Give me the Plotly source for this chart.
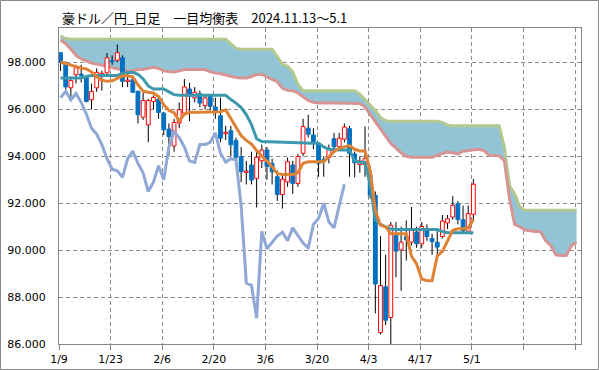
import plotly.graph_objects as go

# ---------------- data ----------------
tick_labels = ["1/9", "1/23", "2/6", "2/20", "3/6", "3/20", "4/3", "4/17", "5/1", "", ""]

opens = [98.42, 98.0, 96.92, 97.48, 97.5, 97.36, 96.41, 96.92, 97.5, 97.56,
         98.08, 98.09, 98.2, 97.2, 97.27, 96.77, 95.67, 95.34, 96.34, 96.44,
         95.84, 95.16, 94.44, 95.42, 95.84, 96.87, 96.49, 96.67, 96.16, 96.56,
         96.1, 95.73, 94.96, 95.09, 94.67, 93.99, 93.33, 93.63, 93.06, 93.81,
         94.27, 93.7, 93.13, 92.37, 92.91, 93.63, 92.84, 94.13, 95.2, 94.91,
         94.5, 93.85, 93.95, 94.75, 94.41, 94.73, 95.18, 94.1, 93.65, 93.65,
         93.2, 92.34, 86.49, 88.44, 87.13, 90.63, 90.01, 90.58, 90.34, 90.77,
         90.27, 90.84, 90.5, 90.34, 90.58, 91.16, 91.41, 91.98, 91.3, 90.81,
         91.53]
highs = [98.45, 98.05, 97.4, 97.9, 97.9, 97.45, 97.1, 97.75, 97.65, 98.4,
         98.3, 98.77, 98.3, 97.6, 97.45, 96.8, 96.7, 96.45, 96.6, 96.6,
         95.9, 95.4, 95.6, 96.3, 97.3, 97.13, 96.95, 96.8, 96.6, 96.6,
         96.5, 96.5, 95.3, 95.3, 94.8, 94.4, 93.8, 94.2, 94.2, 94.5,
         94.4, 93.9, 93.4, 93.2, 93.95, 93.8, 94.1, 95.6, 95.77, 95.2,
         94.6, 94.0, 94.5, 95.0, 95.0, 95.4, 95.3, 94.2, 94.0, 95.27,
         93.6, 92.5, 90.6, 89.8, 91.2, 91.2, 91.0, 91.27, 91.84, 91.0,
         91.2, 91.1, 90.7, 90.9, 91.5, 91.5, 92.3, 92.1, 91.9, 91.9,
         93.03]
lows = [97.63, 96.85, 96.5, 97.1, 97.15, 96.3, 96.0, 96.75, 96.8, 97.4,
        97.9, 98.0, 96.95, 96.95, 96.7, 95.4, 95.55, 94.6, 96.0, 95.6,
        94.9, 94.0, 94.2, 95.2, 95.75, 95.5, 96.3, 96.1, 96.0, 95.95,
        95.6, 94.6, 94.7, 94.0, 93.6, 92.9, 92.8, 92.8, 91.82, 93.5,
        93.0, 92.8, 92.1, 91.77, 92.7, 92.4, 92.7, 94.0, 94.8, 94.3,
        93.13, 93.13, 93.7, 94.2, 94.3, 94.6, 93.13, 93.1, 93.3, 93.13,
        92.2, 87.3, 86.41, 86.8, 85.99, 88.84, 88.27, 89.56, 90.2, 90.1,
        90.1, 90.4, 89.8, 89.8, 90.5, 90.9, 91.3, 91.1, 90.7, 90.7,
        91.3]
closes = [98.0, 96.96, 97.23, 97.77, 97.45, 96.34, 96.77, 97.58, 97.52, 98.2,
          98.03, 98.42, 97.2, 97.24, 96.73, 95.77, 96.38, 96.38, 96.51, 95.87,
          95.13, 94.84, 95.44, 95.99, 96.96, 96.56, 96.73, 96.27, 96.49, 96.13,
          95.91, 94.77, 95.02, 94.49, 93.96, 93.34, 93.36, 92.99, 93.96, 94.27,
          93.56, 93.34, 92.37, 93.03, 93.77, 92.84, 93.99, 95.27, 94.94, 94.63,
          93.7, 93.8, 94.3, 94.41, 94.77, 95.25, 94.13, 93.72, 93.8, 93.9,
          92.34, 88.56, 88.49, 87.01, 91.06, 89.96, 90.34, 90.44, 90.84, 90.27,
          91.01, 90.58, 90.37, 90.13, 91.24, 91.34, 91.91, 91.3, 90.84, 91.56,
          92.81]

tenkan = [98.02, 97.95, 97.88, 97.8, 97.76, 97.72, 97.6, 97.4, 97.24, 97.2,
          97.22, 97.32, 97.42, 97.43, 97.38, 97.05, 96.77, 96.73, 96.7, 96.55,
          96.2, 95.95, 95.86, 95.5, 95.8, 95.87, 95.87, 95.87, 95.87, 95.87,
          95.87, 95.9, 95.98, 95.6, 95.25, 94.88, 94.68, 94.52, 94.25, 94.0,
          93.8, 93.56, 93.27, 93.23, 93.23, 93.23, 93.3, 93.7, 93.77, 93.77,
          93.77, 93.77, 93.98, 94.2, 94.35, 94.42, 94.46, 94.3, 94.23, 94.23,
          93.4, 91.7, 91.06, 90.99, 90.7, 90.7, 90.7, 90.7, 89.75, 89.41,
          88.77, 88.7, 88.7, 89.75, 89.95, 90.4, 90.85, 90.91, 90.91, 90.95,
          91.3]

kijun = [97.34, 97.34, 97.34, 97.34, 97.34, 97.4, 97.44, 97.44, 97.44, 97.44,
         97.44, 97.44, 97.55, 97.58, 97.58, 97.5, 97.3, 97.0, 96.87, 96.87,
         96.87, 96.75, 96.63, 96.6, 96.6, 96.6, 96.6, 96.6, 96.6, 96.6,
         96.6, 96.6, 96.6, 96.42, 96.27, 96.08, 95.78, 95.35, 94.75, 94.63,
         94.62, 94.62, 94.61, 94.6, 94.59, 94.58, 94.57, 94.56, 94.56, 94.56,
         94.56, 94.4, 94.3, 94.27, 94.27, 94.27, 94.27, 93.8, 93.75, 93.75,
         92.8, 91.3, 91.1, 90.99, 90.9, 90.88, 90.88, 90.88, 90.88, 90.88,
         90.88, 90.88, 90.88, 90.88, 90.8, 90.74, 90.74, 90.74, 90.74, 90.74,
         90.74]

chikou = [96.5, 96.77, 96.41, 96.68, 96.3, 95.8, 95.2, 94.95, 94.5, 93.9,
          93.45, 93.38, 93.1, 93.9, 94.22, 93.7, 93.3, 92.5, 92.9, 93.6,
          93.0, 94.4, 95.05, 94.8, 94.4, 93.8, 93.74, 94.5, 94.5, 94.6,
          95.0, 94.13, 93.75, 93.9, 93.85, 91.9, 88.6, 88.5, 87.1, 90.8,
          90.06, 90.35, 90.6, 90.77, 90.4, 90.95, 90.6, 90.3, 90.1, 91.1,
          91.35, 92.0, 91.2, 90.95, 91.9, 92.8]

senkou_a = [99.13, 99.02, 98.99, 98.99, 98.99, 98.99, 98.99, 98.99, 98.99, 98.99,
            98.99, 98.99, 98.99, 98.99, 98.99, 98.99, 98.99, 98.99, 98.99, 98.99,
            98.99, 98.99, 98.99, 98.99, 98.99, 98.99, 98.99, 98.99, 98.99, 98.99,
            98.99, 98.99, 98.99, 98.8, 98.6, 98.56, 98.56, 98.56, 98.56, 98.56,
            98.56, 98.56, 98.25, 97.92, 97.84, 97.6, 97.06, 96.8, 96.8, 96.8,
            96.8, 96.8, 96.8, 96.8, 96.8, 96.8, 96.8, 96.8, 96.65, 96.42,
            96.2, 95.95, 95.65, 95.52, 95.49, 95.49, 95.49, 95.49, 95.49, 95.49,
            95.49, 95.49, 95.49, 95.49, 95.45, 95.33, 95.3, 95.3, 95.3, 95.3,
            95.3, 95.3, 95.3, 95.3, 95.3, 95.3, 94.4, 92.75, 92.4, 91.85,
            91.7, 91.7, 91.7, 91.7, 91.7, 91.7, 91.7, 91.7, 91.7, 91.7,
            91.7]

senkou_b = [98.96, 98.8, 98.57, 98.3, 98.15, 98.05, 97.98, 97.93, 97.9, 97.84,
            97.78, 97.72, 97.68, 97.64, 97.65, 97.7, 97.7, 97.75, 97.8, 97.75,
            97.65, 97.62, 97.6, 97.65, 97.7, 97.7, 97.7, 97.7, 97.7, 97.6,
            97.57, 97.52, 97.47, 97.4, 97.36, 97.34, 97.34, 97.4, 97.49, 97.49,
            97.4, 97.28, 97.18, 96.9, 96.82, 96.8, 96.7, 96.52, 96.38, 96.3,
            96.27, 96.28, 96.28, 96.28, 96.28, 96.28, 96.28, 96.25, 96.25, 96.1,
            95.8, 95.45, 95.15, 94.85, 94.55, 94.35, 94.15, 94.0, 93.96, 93.96,
            93.96, 93.96, 93.96, 94.05, 94.12, 94.18, 94.15, 94.1, 94.22, 94.25,
            94.25, 94.3, 94.25, 94.05, 94.03, 94.02, 93.82, 92.2, 91.1, 91.0,
            90.86, 90.82, 90.8, 90.8, 90.41, 90.2, 89.8, 89.77, 89.77, 90.2,
            90.34]

# ---------------- styling ----------------
UP_LINE = "#FF0000"
DOWN_COL = "#0070C0"
TENKAN_COL = "#DF8236"
KIJUN_COL = "#3D98AE"
CHIKOU_COL = "#8FA8D6"
SPAN_A_COL = "#B3C98F"
SPAN_B_COL = "#D69494"
CLOUD_FILL = "#92C4D5"
GRID_COL = "#8C8C8C"
AXIS_COL = "#868686"
HALF_W = 0.37

idx = list(range(len(closes)))
cloud_idx = list(range(len(senkou_a)))
chikou_idx = list(range(len(chikou)))

# wicks (split above / below the body so they do not cross the hollow bodies)
wx, wy = [], []
for i, o, h, l, c in zip(idx, opens, highs, lows, closes):
    top, bot = max(o, c), min(o, c)
    wx += [i, i, None, i, i, None]
    wy += [h, top, None, bot, l, None]

# bodies as rectangles built from the data
def bodies(up):
    bx, by = [], []
    for i, o, c in zip(idx, opens, closes):
        if (c >= o) != up:
            continue
        lo, hi = min(o, c), max(o, c)
        if hi - lo < 0.05:
            mid = (hi + lo) / 2
            lo, hi = mid - 0.03, mid + 0.03
        bx += [i - HALF_W, i + HALF_W, i + HALF_W, i - HALF_W, i - HALF_W, None]
        by += [lo, lo, hi, hi, lo, None]
    return bx, by

ux, uy = bodies(True)
dx, dy = bodies(False)

fig = go.Figure()
fig.add_trace(go.Scatter(x=cloud_idx, y=senkou_a, mode="lines",
                         line=dict(color=SPAN_A_COL, width=3), hoverinfo="skip"))
fig.add_trace(go.Scatter(x=cloud_idx, y=senkou_b, mode="lines", fill="tonexty",
                         fillcolor=CLOUD_FILL,
                         line=dict(color=SPAN_B_COL, width=3), hoverinfo="skip"))
fig.add_trace(go.Scatter(x=wx, y=wy, mode="lines", line=dict(color="#000000", width=1),
                         hoverinfo="skip"))
fig.add_trace(go.Scatter(x=ux, y=uy, mode="lines", fill="toself", fillcolor="#FFFFFF",
                         line=dict(color=UP_LINE, width=1), hoverinfo="skip"))
fig.add_trace(go.Scatter(x=dx, y=dy, mode="lines", fill="toself", fillcolor=DOWN_COL,
                         line=dict(color=DOWN_COL, width=1), hoverinfo="skip"))
fig.add_trace(go.Scatter(x=chikou_idx, y=chikou, mode="lines",
                         line=dict(color=CHIKOU_COL, width=3), hoverinfo="skip"))
fig.add_trace(go.Scatter(x=idx, y=kijun, mode="lines",
                         line=dict(color=KIJUN_COL, width=3), hoverinfo="skip"))
fig.add_trace(go.Scatter(x=idx, y=tenkan, mode="lines",
                         line=dict(color=TENKAN_COL, width=3), hoverinfo="skip"))

W, H = 599, 370
ML, MR, MT, MB = 59, 18, 28, 26
pw, ph = W - ML - MR, H - MT - MB

tickvals = [k * 10 - 0.3 for k in range(len(tick_labels))]

fig.update_layout(
    width=W, height=H,
    margin=dict(l=ML, r=MR, t=MT, b=MB, pad=0),
    paper_bgcolor="#FFFFFF", plot_bgcolor="#FFFFFF",
    showlegend=False,
    title=dict(text="豪ドル／円_日足　一目均衡表　2024.11.13〜5.1",
               font=dict(family="Noto Sans CJK JP", size=13, color="#000000"),
               xref="container", x=62 / W, xanchor="left",
               yref="container", y=1 - 18 / H, yanchor="middle"),
    xaxis=dict(range=[-0.3, 100.86], tickvals=tickvals, ticktext=tick_labels,
               showgrid=True, gridcolor=GRID_COL, griddash="4px,3px", gridwidth=1,
               showline=True, linecolor=AXIS_COL, linewidth=1, mirror=True,
               ticks="outside", ticklen=5, tickcolor=AXIS_COL,
               tickfont=dict(family="DejaVu Sans", size=11, color="#000000"),
               zeroline=False, fixedrange=True, automargin=False),
    yaxis=dict(range=[86, 99.47], tickvals=[86, 88, 90, 92, 94, 96, 98],
               tickformat=".3f",
               showgrid=True, gridcolor=GRID_COL, griddash="4px,3px", gridwidth=1,
               showline=True, linecolor=AXIS_COL, linewidth=1, mirror=True,
               ticks="outside", ticklen=10, tickcolor="rgba(0,0,0,0)",
               tickfont=dict(family="DejaVu Sans", size=11, color="#000000"),
               zeroline=False, fixedrange=True, automargin=False),
    shapes=[dict(type="rect", xref="paper", yref="paper",
                 x0=(0.5 - ML) / pw, x1=(W - 0.5 - ML) / pw,
                 y0=-(MB - 0.5) / ph, y1=1 + (MT - 0.5) / ph,
                 line=dict(color="#888888", width=1), fillcolor="rgba(0,0,0,0)",
                 layer="above")],
)

fig.write_html("out.html",
               config={"displayModeBar": False, "staticPlot": True},
               post_script="document.body.style.margin='0';document.body.style.overflow='hidden';")
